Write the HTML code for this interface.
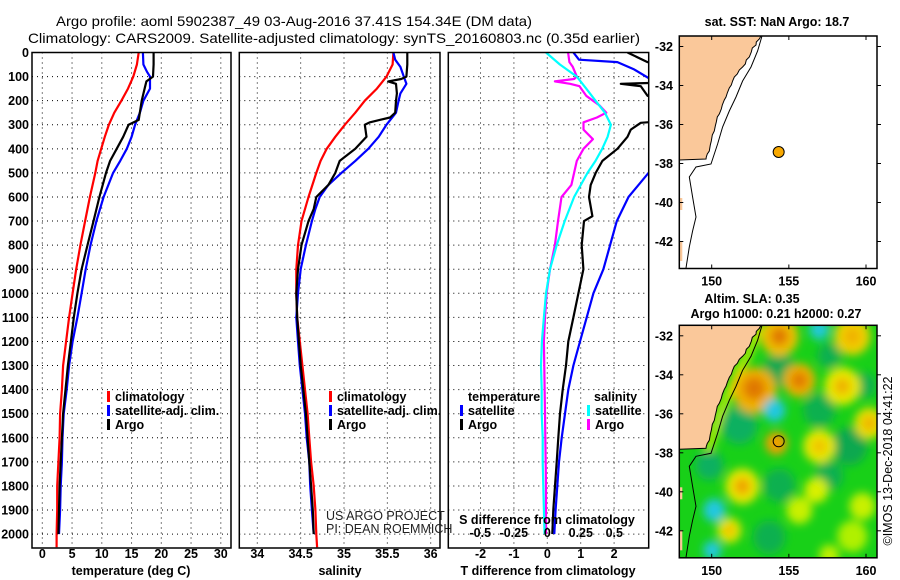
<!DOCTYPE html>
<html><head><meta charset="utf-8"><style>
html,body{margin:0;padding:0;background:#fff}
svg{display:block}
text{font-family:"Liberation Sans",sans-serif}
.b{font-weight:bold;font-size:12.5px}
</style></head><body>
<svg id="c" width="900" height="580" viewBox="0 0 900 580" xmlns="http://www.w3.org/2000/svg">
<defs>
<clipPath id="cp1"><rect x="32" y="52.5" width="199" height="495.5"/></clipPath>
<clipPath id="cp2"><rect x="239.3" y="52.5" width="200.7" height="495.5"/></clipPath>
<clipPath id="cp3"><rect x="448.3" y="52.5" width="200.4" height="495.5"/></clipPath>
<clipPath id="cpm1"><rect x="679.3" y="36" width="197.7" height="232.5"/></clipPath>
<clipPath id="cpm2"><rect x="679.3" y="325.3" width="197.7" height="232.5"/></clipPath>
<filter id="blur" x="-20%" y="-20%" width="140%" height="140%"><feGaussianBlur stdDeviation="4.5"/></filter>
</defs>
<text x="294" y="26" text-anchor="middle" font-size="14" textLength="476" lengthAdjust="spacingAndGlyphs">Argo profile: aoml 5902387_49 03-Aug-2016 37.41S 154.34E (DM data)</text>
<text x="334" y="43" text-anchor="middle" font-size="14" textLength="612" lengthAdjust="spacingAndGlyphs">Climatology: CARS2009. Satellite-adjusted climatology: synTS_20160803.nc (0.35d earlier)</text>
</svg>
<script>
// ---- data ----
const tClimDepth=[0,50,100,150,200,250,300,350,400,450,500,600,700,800,900,1000,1100,1200,1300,1400,1500,1600,1700,1800,1900,2000,2055];
const tClimVal=[16.2,15.9,15.3,14.4,13.3,12.1,11.2,10.5,9.9,9.3,8.9,8.0,7.2,6.4,5.7,5.1,4.5,4.0,3.5,3.3,3.0,2.9,2.7,2.5,2.5,2.4,2.4];
const tSatDepth=[0,50,80,100,150,200,250,300,350,400,450,500,600,700,800,900,1000,1100,1200,1300,1400,1500,1600,1700,1800,1900,2000];
const tSatVal=[16.9,17.0,17.6,18.1,18.1,17.0,16.4,15.6,15.0,14.2,13.1,11.9,10.3,9.1,8.1,7.3,6.6,5.9,5.1,4.5,4.1,3.6,3.4,3.3,3.1,3.0,2.8];
const tArgoDepth=[0,50,100,120,140,200,280,300,350,400,450,500,600,700,800,900,1000,1100,1200,1300,1400,1500,1600,1700,1800,1900,2000];
const tArgoVal=[18.7,18.7,18.6,17.5,17.3,16.7,16.2,14.5,13.6,12.5,11.4,10.7,9.6,8.6,7.6,6.6,5.9,5.3,4.8,4.3,3.9,3.5,3.3,3.1,2.9,2.8,2.7];

const sClimDepth=[0,50,100,150,200,250,300,350,400,450,500,600,700,800,900,1000,1100,1200,1300,1400,1500,1600,1700,1800,1900,2000,2055];
const sClimVal=[35.57,35.56,35.49,35.38,35.24,35.13,35.01,34.9,34.8,34.73,34.68,34.59,34.51,34.47,34.45,34.45,34.46,34.49,34.52,34.55,34.58,34.6,34.62,34.65,34.67,34.68,34.69];
const sSatDepth=[0,30,60,100,130,170,200,250,300,350,400,450,500,550,600,650,700,800,900,1000,1100,1200,1300,1400,1500,1600,1700,1800,1900,2000];
const sSatVal=[35.57,35.59,35.65,35.69,35.72,35.65,35.63,35.6,35.49,35.4,35.28,35.13,34.97,34.82,34.72,34.67,34.63,34.56,34.5,34.47,34.45,34.47,34.49,34.52,34.55,34.57,34.6,34.61,34.63,34.65];
const sArgoDepth=[0,50,100,110,120,130,170,200,250,270,290,300,350,400,450,500,550,600,650,700,800,900,1000,1100,1200,1300,1400,1500,1600,1700,1800,1900,2000];
const sArgoVal=[35.73,35.73,35.72,35.66,35.51,35.6,35.61,35.6,35.59,35.53,35.3,35.24,35.26,35.13,34.95,34.9,34.82,34.68,34.65,34.59,34.51,34.47,34.45,34.46,34.48,34.5,34.53,34.56,34.58,34.6,34.62,34.64,34.65];

const dtSatDepth=[0,30,40,70,120,480,500,600,700,800,900,1000,1100,1200,1300,1400,1500,1600,1700,1800,1900,2000];
const dtSatVal=[0.78,0.95,2.1,2.6,3.2,3.2,3.03,2.43,2.08,1.88,1.68,1.38,1.18,0.98,0.78,0.63,0.53,0.43,0.35,0.3,0.25,0.21];
const dtArgoDepth=[0,40,60,125,130,140,180,200,285,292,320,350,400,450,500,550,600,680,700,800,900,1000,1100,1200,1300,1400,1500,1600,1700,1800,1900,2000];
const dtArgoVal=[2.4,3.0,3.5,3.5,2.2,2.8,3.0,3.5,3.5,2.8,2.5,2.4,2.1,1.65,1.45,1.3,1.25,1.35,1.1,1.03,1.08,0.93,0.78,0.63,0.56,0.46,0.38,0.33,0.28,0.23,0.18,0.15];
const dsSatDepth=[0,50,100,150,200,250,300,350,400,450,500,600,700,800,900,1000,1100,1200,1300,1400,1500,1600,1700,1800,1900,2000];
const dsSatVal=[-0.01,0.094,0.22,0.29,0.36,0.43,0.475,0.45,0.41,0.36,0.30,0.20,0.13,0.07,0.02,-0.01,-0.025,-0.04,-0.047,-0.042,-0.042,-0.034,-0.034,-0.03,-0.025,-0.02];
const dsArgoDepth=[0,40,60,100,110,120,130,140,180,220,250,270,290,320,360,400,450,500,550,600,700,800,900,1000,1100,1200,1500,1800,2000];
const dsArgoVal=[0.155,0.165,0.19,0.22,0.2,0.057,0.17,0.24,0.29,0.39,0.44,0.37,0.27,0.27,0.34,0.27,0.22,0.2,0.18,0.106,0.08,0.057,0.02,-0.005,-0.017,-0.025,-0.017,-0.01,-0.01];

const depthTicks=[0,100,200,300,400,500,600,700,800,900,1000,1100,1200,1300,1400,1500,1600,1700,1800,1900,2000];
const tTicks=[0,5,10,15,20,25,30];
const sTicks=[34,34.5,35,35.5,36];
const dtTicks=[-2,-1,0,1,2];
const dsTicks=[-0.5,-0.25,0,0.25,0.5];
const dsTickLabels=["-0.5","-0.25","0","0.25","0.5"];
const latTicks=[-32,-34,-36,-38,-40,-42];
const lonTicks=[150,155,160];
const argoLon=154.34, argoLat=-37.41;

// ---- scales ----
const TOP=52.5,BOT=548;
const yD=d=>TOP+d*0.2408;
const xT=t=>42.3+t*5.95;
const xS=s=>257.3+(s-34)*86.7;
const xDT=t=>547.3+t*33.4;
const xDS=s=>547.3+s*134;
const xLon=l=>711.7+(l-150)*15.43;
const yLat1=l=>46.5+(-32-l)*19.5;
const yLat2=l=>335.8+(-32-l)*19.5;

const svg=document.getElementById('c');
const NS='http://www.w3.org/2000/svg';
function mk(tag,attrs,parent){const e=document.createElementNS(NS,tag);for(const k in attrs)e.setAttribute(k,attrs[k]);(parent||svg).appendChild(e);return e;}
function txt(x,y,s,anchor,cls,parent){const e=mk('text',{x:x,y:y,'text-anchor':anchor||'middle','class':cls||'b'},parent);e.textContent=s;return e;}

function panel(name,x0,x1,xTicksArr,xf,clip){
  const g=mk('g',{});
  
  
  const gr=mk('g',{stroke:'#000','stroke-width':1,'stroke-dasharray':'1,4'},g);
  
  
  depthTicks.forEach(d=>mk('line',{x1:x0,x2:x1,y1:yD(d),y2:yD(d)},gr));
  xTicksArr.forEach(v=>mk('line',{x1:xf(v),x2:xf(v),y1:TOP,y2:BOT},gr));
  const lines=mk('g',{'clip-path':'url(#'+clip+')'},g);
  const fr=mk('rect',{x:x0,y:TOP,width:x1-x0,height:BOT-TOP,fill:'none',stroke:'#000','stroke-width':1.5},g);
  
  
  return lines;
}
function series(parent,name,depths,vals,xf,color,w){
  const p=mk('polyline',{points:depths.map((d,i)=>xf(vals[i]).toFixed(1)+','+yD(d).toFixed(1)).join(' '),fill:'none',stroke:color,'stroke-width':w||2.2,'stroke-linejoin':'round'},parent);
  
  
}
function legend(x,y,color,label,name){
  const r=mk('rect',{x:x,y:y-10,width:3,height:11,fill:color});
  
  
  const t=txt(x+8,y,label,'start');
  
  
}

depthTicks.forEach(d=>{const t=txt(29,yD(d)+4.5,String(d),'end');
  
  });

// Panel 1
const p1=panel('temperature-panel',32,231,tTicks,xT,'cp1');
series(p1,'temperature-climatology-line',tClimDepth,tClimVal,xT,'#f00');
series(p1,'temperature-satellite-line',tSatDepth,tSatVal,xT,'#00f');
series(p1,'temperature-argo-line',tArgoDepth,tArgoVal,xT,'#000');
tTicks.forEach(v=>{const t=txt(xT(v),558,String(v));
  
  });
let at=txt(131,575,'temperature (deg C)');


legend(107,401,'#f00','climatology','legend-climatology');
legend(107,415,'#00f','satellite-adj. clim.','legend-satellite');
legend(107,429,'#000','Argo','legend-argo');

// Panel 2
const p2=panel('salinity-panel',239.3,440,sTicks,xS,'cp2');
series(p2,'salinity-climatology-line',sClimDepth,sClimVal,xS,'#f00');
series(p2,'salinity-satellite-line',sSatDepth,sSatVal,xS,'#00f');
series(p2,'salinity-argo-line',sArgoDepth,sArgoVal,xS,'#000');
sTicks.forEach(v=>{const t=txt(xS(v),558,String(v));
  
  });
at=txt(340,575,'salinity');


legend(329,401,'#f00','climatology','legend-climatology-s');
legend(329,415,'#00f','satellite-adj. clim.','legend-satellite-s');
legend(329,429,'#000','Argo','legend-argo-s');
let cr=mk('text',{x:326,y:520,'font-size':12.5,fill:'#222'});cr.textContent='US ARGO PROJECT';


cr=mk('text',{x:326,y:533,'font-size':12.5,fill:'#222'});cr.textContent='PI: DEAN ROEMMICH';



// Panel 3
const p3=panel('difference-panel',448.3,648.7,dtTicks,xDT,'cp3');
series(p3,'salinity-diff-argo-line',dsArgoDepth,dsArgoVal,xDS,'#f0f');
series(p3,'salinity-diff-satellite-line',dsSatDepth,dsSatVal,xDS,'#0ff');
series(p3,'temperature-diff-argo-line',dtArgoDepth,dtArgoVal,xDT,'#000');
series(p3,'temperature-diff-satellite-line',dtSatDepth,dtSatVal,xDT,'#00f');
dtTicks.forEach(v=>{const t=txt(xDT(v),558,String(v));
  
  });
dsTicks.forEach((v,i)=>{const t=txt(xDS(v),537,dsTickLabels[i]);
  
  });
at=txt(548,575,'T difference from climatology');


at=txt(547,524,'S difference from climatology');


at=txt(468,401,'temperature','start');


at=txt(594,401,'salinity','start');


legend(460,415,'#00f','satellite','legend-t-satellite');
legend(460,429,'#000','Argo','legend-t-argo');
legend(587,415,'#0ff','satellite','legend-s-satellite');
legend(587,429,'#f0f','Argo','legend-s-argo');

// ---- maps ----
const coast=[[0,0],[81.7,0],[80,3],[77,6],[76.7,9],[73,12],[72,16],[70,21],[67,24],[66,28],[63.3,31],[60,34],[58,38],[55,41],[53.3,45],[52,49],[50,52],[48,57],[46.7,61],[45,64],[43,69],[42,73],[40,78],[38,81],[37,86],[36,90],[35,95],[33,99],[32,105],[31,109],[30,115],[28,118],[27,121],[26.7,123],[0,124]];
const contour=[[82.7,0],[78.3,15],[71.7,31],[63.3,45],[56.7,61],[50,75],[43.3,91],[38.3,108],[31.7,128],[16.7,131],[10,141],[13.3,161],[16.7,181],[13.3,195],[10,211],[6.7,232]];
const blobs=[[100,45,16,'#10a850'],[170,121,18,'#10a850'],[60,100,18,'#10b060'],[140,85,16,'#10b050'],[100,160,16,'#10b050'],[150,150,14,'#10b050'],[30,140,14,'#10b060'],[90,212,16,'#10b050'],[185,60,12,'#10b050'],[150,30,12,'#10b050'],
[100,11,19,'#f0c000'],[100,11,9,'#e07800'],[140,4,10,'#20c8d8'],[173,11,18,'#f0d000'],[173,11,8,'#f0b000'],
[120,55,16,'#f0b000'],[120,55,8,'#e07800'],[75,65,22,'#f0b000'],[75,63,11,'#e07800'],[163,61,18,'#e8e800'],[163,61,8,'#f0b000'],[95,85,11,'#20c8e0'],
[97,118,11,'#f0a000'],[190,98,15,'#e8e000'],[190,98,7,'#f0b000'],[140,121,16,'#e8e800'],[140,121,7,'#f0c000'],[63,161,17,'#e8e800'],[63,161,8,'#f0a000'],
[35,185,11,'#20c8e0'],[50,205,12,'#e8e800'],[50,205,5,'#f0b000'],[33,225,9,'#20c8e0'],[137,165,12,'#d8f000'],[120,185,13,'#c8f000'],
[183,181,13,'#c8f000'],[173,211,15,'#b0f000'],[40,40,10,'#d0f000'],[150,230,10,'#c0f000']];
function map(name,y0,yLat,isSLA){
  const g=mk('g',{});
  
  
  const x0=679.3,w=197.7,h=232.5;
  const inner=mk('g',{'clip-path':'url(#'+(isSLA?'cpm2':'cpm1')+')'},g);
  mk('rect',{x:x0,y:y0,width:w,height:h,fill:isSLA?'#18d018':'#fff'},inner);
  if(isSLA){
    const bg=mk('g',{filter:'url(#blur)'},inner);
    
    
    mk('polyline',{points:contour.slice(0,9).map(p=>(x0+p[0]-4)+','+(y0+p[1])).join(' '),fill:'none',stroke:'#d8f000','stroke-width':7},bg);
    blobs.forEach(b=>mk('ellipse',{cx:x0+b[0],cy:y0+b[1],rx:b[2],ry:b[2]*1.05,fill:b[3]},bg));
  }
  const land=mk('polygon',{points:coast.map(p=>(x0+p[0])+','+(y0+p[1])).join(' '),fill:'#fac89a',stroke:'#000','stroke-width':1},inner);
  
  
  mk('rect',{x:x0,y:y0+162,width:3,height:12,fill:'#fac89a'},inner);
  mk('rect',{x:x0,y:y0+205,width:3,height:20,fill:'#fac89a'},inner);
  const ct=mk('polyline',{points:contour.map(p=>(x0+p[0])+','+(y0+p[1])).join(' '),fill:'none',stroke:'#000','stroke-width':1},inner);
  
  
  const pt=mk('circle',{cx:xLon(argoLon),cy:yLat(argoLat),r:5.5,fill:isSLA?'none':'#f8a800',stroke:'#000','stroke-width':1},g);
  
  
  mk('rect',{x:x0,y:y0,width:w,height:h,fill:'none',stroke:'#000','stroke-width':1.5},g);
  latTicks.forEach(l=>{
    mk('line',{x1:x0,x2:x0+4,y1:yLat(l),y2:yLat(l),stroke:'#000'},g);
    mk('line',{x1:x0+w,x2:x0+w+4,y1:yLat(l),y2:yLat(l),stroke:'#000'},g);
    const t=txt(673,yLat(l)+4.5,String(l),'end');
    
    
  });
  lonTicks.forEach(l=>{
    mk('line',{x1:xLon(l),x2:xLon(l),y1:y0,y2:y0+4,stroke:'#000'},g);
    mk('line',{x1:xLon(l),x2:xLon(l),y1:y0+h,y2:y0+h-4,stroke:'#000'},g);
    const t=txt(xLon(l),y0+h+17,String(l));
    
    
  });
}
map('sst-map',36,yLat1,false);
map('sla-map',325.3,yLat2,true);
at=txt(777,26,'sat. SST: NaN Argo: 18.7');


at=txt(752,303,'Altim. SLA: 0.35');


at=txt(776,318,'Argo h1000: 0.21 h2000: 0.27');


const im=mk('text',{x:0,y:0,'font-size':12.5,'text-anchor':'middle',transform:'translate(892,461) rotate(-90)'});
im.textContent='©IMOS 13-Dec-2018 04:41:22';


</script>
</body></html>
